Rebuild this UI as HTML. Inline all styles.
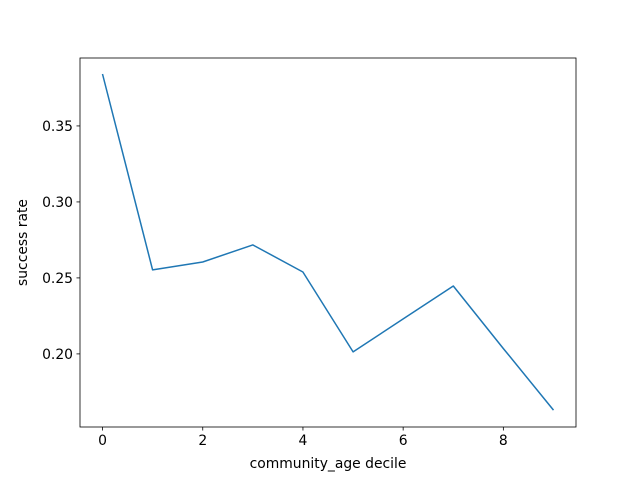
<!DOCTYPE html>
<html><head><meta charset="utf-8"><style>
body{margin:0;background:#fff;}
text{font-family:"DejaVu Sans","Liberation Sans",sans-serif;font-size:13.9px;fill:#000;}
</style></head><body>
<svg id="chart" width="640" height="480">
<rect width="640" height="480" fill="#fff"/>
<g id="axes"></g>
</svg>
<script>
const deciles=[0,1,2,3,4,5,6,7,8,9];
const successRate=[0.3842,0.2553,0.2605,0.2717,0.2539,0.2013,0.2230,0.2447,0.2035,0.1630];
const xTicks=[0,2,4,6,8];
const yTicks=[0.20,0.25,0.30,0.35];
const L=80,R=576,T=58,B=427;
const xMin=-0.45,xMax=9.45,yMin=0.1519,yMax=0.3947;
const sx=v=>L+(v-xMin)/(xMax-xMin)*(R-L);
const sy=v=>B-(v-yMin)/(yMax-yMin)*(B-T);
const g=document.getElementById('axes');
const NS='http://www.w3.org/2000/svg';
function mk(tag,attrs){const e=document.createElementNS(NS,tag);for(const k in attrs)e.setAttribute(k,attrs[k]);g.appendChild(e);return e;}
const pts=deciles.map((d,i)=>sx(d).toFixed(1)+','+sy(successRate[i]).toFixed(1)).join(' ');
const line=mk('polyline',{points:pts,fill:'none',stroke:'#1f77b4','stroke-width':1.5,'stroke-linejoin':'round'});


const frame=mk('rect',{x:L,y:T,width:R-L,height:B-T,fill:'none',stroke:'#000','stroke-width':0.8});


xTicks.forEach(t=>{
  const x=sx(t);
  mk('line',{x1:x,x2:x,y1:B,y2:B+3.5,stroke:'#000','stroke-width':0.8});
  const tx=mk('text',{x:x,y:B+18,'text-anchor':'middle'});tx.textContent=t;
  
  
});
yTicks.forEach(t=>{
  const y=sy(t);
  mk('line',{x1:L-3.5,x2:L,y1:y,y2:y,stroke:'#000','stroke-width':0.8});
  const tx=mk('text',{x:L-7,y:y+5,'text-anchor':'end'});tx.textContent=t.toFixed(2);
  
  
});
const xl=mk('text',{x:(L+R)/2,y:468,'text-anchor':'middle'});xl.textContent='community_age decile';


const yl=mk('text',{x:0,y:0,'text-anchor':'middle',transform:'translate(27,'+((T+B)/2)+') rotate(-90)'});yl.textContent='success rate';


</script>
</body></html>
